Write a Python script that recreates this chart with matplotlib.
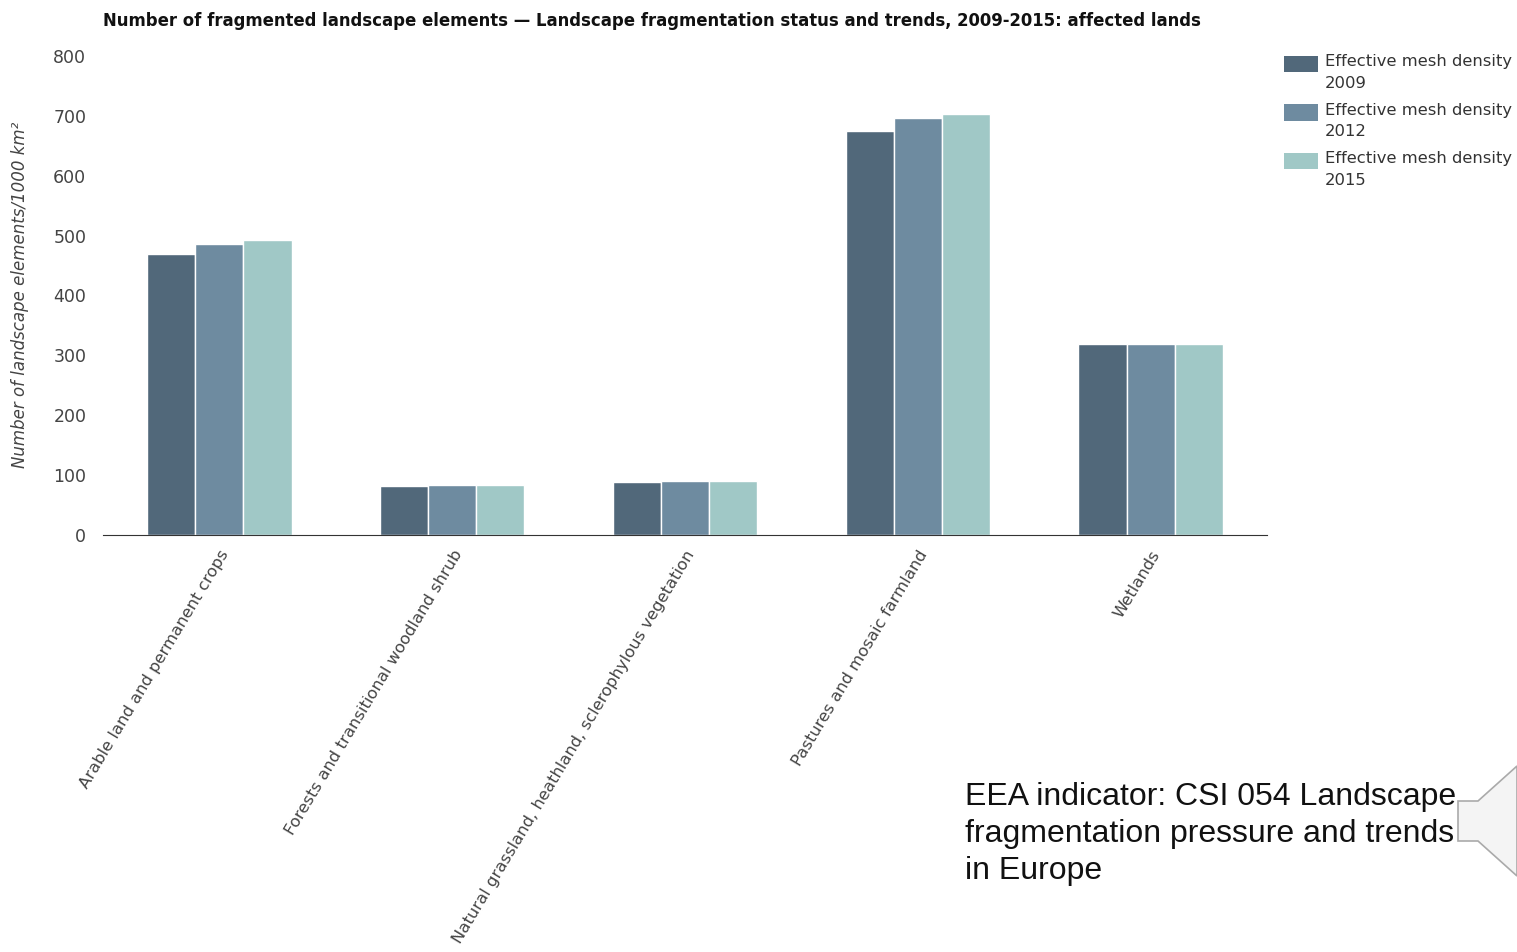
import matplotlib
matplotlib.use("Agg")
import matplotlib.pyplot as plt
import numpy as np
from matplotlib.patches import Polygon, Rectangle

# данные
categories = [
    "Arable land and permanent crops",
    "Forests and transitional woodland shrub",
    "Natural grassland, heathland, sclerophylous vegetation",
    "Pastures and mosaic farmland",
    "Wetlands",
]
series_names = [
    "Effective mesh density\n2009",
    "Effective mesh density\n2012",
    "Effective mesh density\n2015",
]
values_2009 = [469, 82, 88, 674, 319]
values_2012 = [486, 84, 90, 696, 319]
values_2015 = [492, 84, 90, 703, 319]
colors = ["#51687a", "#6e8ba0", "#a0c8c6"]

W, H = 1517, 952
fig = plt.figure(figsize=(W / 100, H / 100), dpi=100)
ax = fig.add_axes([103 / W, 1 - 535 / H, (1267 - 103) / W, (535 - 56) / H])

x = np.arange(len(categories))
bw = 0.207
for i, (vals, name, c) in enumerate(zip([values_2009, values_2012, values_2015], series_names, colors)):
    ax.bar(x + (i - 1) * bw, vals, bw, color=c, edgecolor="white", linewidth=1, label=name)

ax.set_xlim(-0.5, len(categories) - 0.5)
ax.set_ylim(0, 800)
ax.set_yticks(range(0, 801, 100))
ax.tick_params(axis="y", length=0, labelsize=12.5, labelcolor="#444444", pad=12)
ax.tick_params(axis="x", length=0, labelsize=11.8, labelcolor="#444444", pad=9)
ax.set_xticks(x)
ax.set_xticklabels(categories, rotation=59, ha="right", va="top", rotation_mode="anchor")
for s in ["top", "right", "left"]:
    ax.spines[s].set_visible(False)
ax.spines["bottom"].set_color("#333333")

fig.text(20 / W, 1 - 295 / H, "Number of landscape elements/1000 km²", rotation=90,
         ha="center", va="center", fontsize=12, style="italic", color="#444444")

fig.text(103 / W, 1 - 21 / H,
         "Number of fragmented landscape elements \u2014 Landscape fragmentation status and trends, 2009-2015: affected lands",
         ha="left", va="center", fontsize=11.9, fontweight="bold", color="#111111")

# легенда вручную: квадрат выровнен по первой строке
for i, (name, c) in enumerate(zip(series_names, colors)):
    top = 56 + i * 48.5
    fig.add_artist(Rectangle((1284 / W, 1 - (top + 16) / H), 34 / W, 16 / H,
                             transform=fig.transFigure, facecolor=c, edgecolor="none"))
    fig.text(1325 / W, 1 - (top - 2) / H, name, ha="left", va="top", fontsize=11.8,
             color="#333333", linespacing=1.55)

fig.text(965 / W, 1 - 834 / H, "EEA indicator: CSI 054 Landscape\nfragmentation pressure and trends\nin Europe",
         ha="left", va="center", fontsize=23, family="Liberation Sans", color="#111111", linespacing=1.3)

# значок динамика справа внизу
spk = [(1458, 801), (1478, 801), (1517, 766), (1517, 876), (1478, 841), (1458, 841)]
fig.patches.append(Polygon([(px / W, 1 - py / H) for px, py in spk], closed=True,
                           transform=fig.transFigure, facecolor="#f4f4f4", edgecolor="#aaaaaa", linewidth=1.2))

fig.savefig("out.png", dpi=100)
